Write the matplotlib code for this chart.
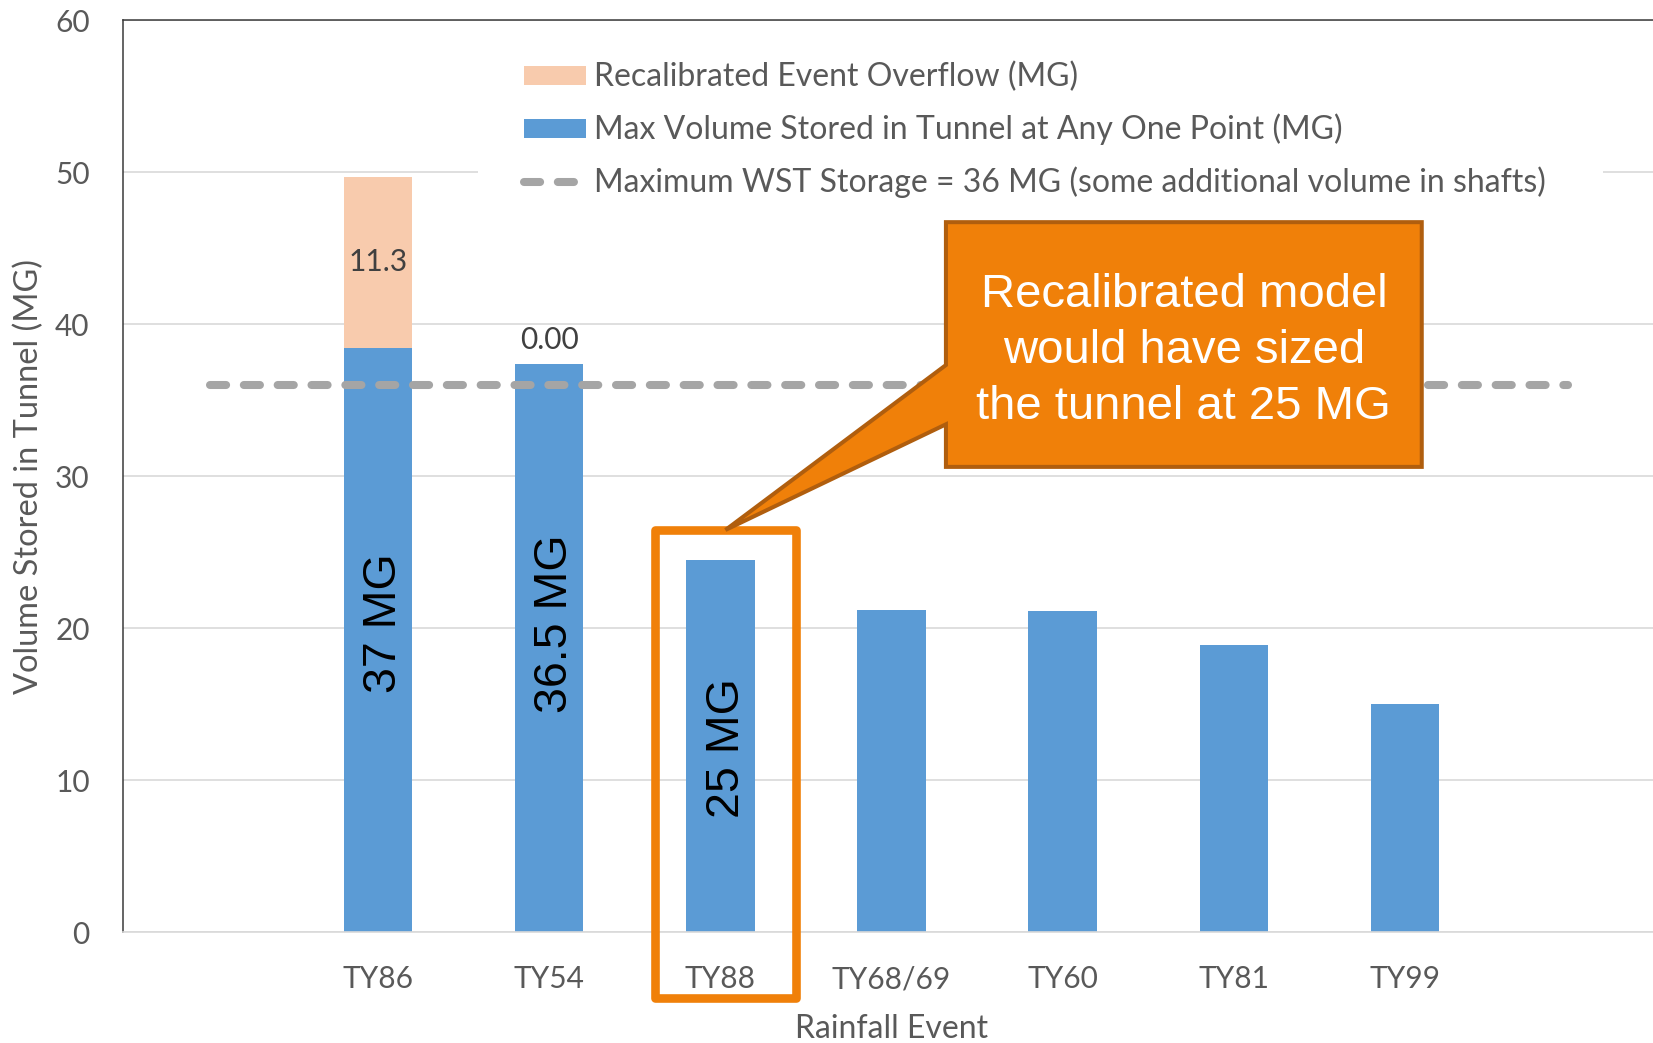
import numpy as np
import matplotlib.pyplot as plt
from matplotlib.patches import Patch, Rectangle, Polygon
from matplotlib.lines import Line2D

# ---- data -------------------------------------------------------------
events = ["TY86", "TY54", "TY88", "TY68/69", "TY60", "TY81", "TY99"]
max_stored = [38.4, 37.4, 24.5, 21.2, 21.1, 18.9, 15.0]        # MG
overflow = [11.3, 0.0, np.nan, np.nan, np.nan, np.nan, np.nan]  # MG
wst_capacity = 36                                               # MG
y_ticks = [0, 10, 20, 30, 40, 50, 60]

design_notes = ["37 MG", "36.5 MG", "25 MG"]
design_note_y = [20.3, 20.3, 12.1]
highlight_idx = 2
callout_text = "Recalibrated model\nwould have sized\nthe tunnel at 25 MG"

legend_labels = [
    "Recalibrated Event Overflow (MG)",
    "Max Volume Stored in Tunnel at Any One Point (MG)",
    "Maximum WST Storage = 36 MG (some additional volume in shafts)",
]

# ---- style ------------------------------------------------------------
BLUE = "#5B9BD5"
PEACH = "#F8CBAD"
DASH_GREY = "#A5A5A5"
GRID = "#D9D9D9"
TEXT_GREY = "#595959"
LABEL_DARK = "#404040"
ORANGE = "#F08009"
ORANGE_EDGE = "#B05E0E"
UI_FONT = ["Lato", "DejaVu Sans"]
NOTE_FONT = ["Liberation Sans", "DejaVu Sans"]

W, H = 1653, 1043
fig = plt.figure(figsize=(W / 100, H / 100), dpi=100)
ax = fig.add_axes([123 / W, 1 - 932 / H, (1660 - 123) / W, (932 - 20) / H])

x = np.arange(len(events))
bar_w = 0.4
overflow_arr = np.array(overflow, dtype=float)

ax.bar(x, max_stored, width=bar_w, color=BLUE, zorder=2)
ax.bar(x, np.nan_to_num(overflow_arr), bottom=max_stored, width=bar_w,
       color=PEACH, zorder=2)

dash_lw = 5.8
ax.plot([-0.98, 6.95], [wst_capacity, wst_capacity], color=DASH_GREY,
        lw=dash_lw, dashes=(2, 2.2), dash_capstyle="round", zorder=3)

# overflow data labels
for i, v in enumerate(overflow_arr):
    if np.isnan(v):
        continue
    if v > 0:
        ax.text(x[i], max_stored[i] + v / 2, f"{v:.1f}", ha="center",
                va="center", fontsize=21.5, color=LABEL_DARK, family=UI_FONT,
                zorder=4)
    else:
        ax.annotate(f"{v:.2f}", (x[i], max_stored[i] + v), xytext=(0, 17),
                    textcoords="offset points", ha="center", va="center",
                    fontsize=21.5, color=LABEL_DARK, family=UI_FONT, zorder=4)

# vertical size notes inside the first bars
for i, (txt, yy) in enumerate(zip(design_notes, design_note_y)):
    ax.annotate(txt, (x[i], yy), xytext=(4.5, 0), textcoords="offset points",
                rotation=90, ha="center", va="center", fontsize=33.5,
                color="black", family=NOTE_FONT, zorder=4)

# axes
ax.set_xlim(-1.49, 7.49)
ax.set_ylim(0, 60)
ax.set_yticks(y_ticks)
ax.set_xticks(x)
ax.set_xticklabels(events)
ax.yaxis.grid(True, color=GRID, lw=1.2)
ax.set_axisbelow(True)
ax.tick_params(axis="both", length=0, labelcolor=TEXT_GREY, labelsize=21.5)
ax.tick_params(axis="y", pad=24)
ax.tick_params(axis="x", pad=24)
for lab in ax.get_xticklabels() + ax.get_yticklabels():
    lab.set_family(UI_FONT)

for side in ("top", "left"):
    ax.spines[side].set_color("#3A3A3A")
    ax.spines[side].set_linewidth(1.1)
ax.spines["bottom"].set_color(GRID)
ax.spines["bottom"].set_linewidth(1.2)
ax.spines["right"].set_visible(False)

ax.set_xlabel("Rainfall Event", fontsize=23, color=TEXT_GREY, family=UI_FONT)
ax.xaxis.set_label_coords(0.5, (932 - 1029) / 912)
ax.xaxis.label.set_va("center")
ax.set_ylabel("Volume Stored in Tunnel (MG)", fontsize=23.4, color=TEXT_GREY,
              family=UI_FONT)
ax.yaxis.set_label_coords((29 - 123) / 1537, (932 - 476) / 912)
ax.yaxis.label.set_va("center")

# white panel behind the legend
ax.add_patch(Rectangle((478 / W, 1 - 215 / H), (1603 - 478) / W, 170 / H,
                       transform=fig.transFigure, facecolor="white",
                       edgecolor="none", zorder=1))

handles = [
    Patch(facecolor=PEACH, edgecolor="none"),
    Patch(facecolor=BLUE, edgecolor="none"),
    Line2D([], [], color=DASH_GREY, lw=dash_lw, dashes=(2, 2.2),
           dash_capstyle="round"),
]
leg = ax.legend(handles, legend_labels, loc="upper left",
                bbox_to_anchor=(524 / W, 1 - 62 / H),
                bbox_transform=fig.transFigure, frameon=False, borderpad=0,
                borderaxespad=0, handlelength=1.94, handleheight=0.53,
                handletextpad=0.25, labelspacing=0.67,
                prop={"family": UI_FONT, "size": 23})
for t in leg.get_texts():
    t.set_color(TEXT_GREY)

# highlight frame around TY88
hx = highlight_idx + 0.03
ax.add_patch(Rectangle((hx - 0.412, -4.34), 0.824, 30.79, fill=False,
                       edgecolor=ORANGE, lw=6.2, joinstyle="round",
                       clip_on=False, zorder=4))

# speech callout
bx0, bx1, by0, by1 = 3.318, 6.098, 30.6, 46.7
callout = Polygon([(bx0, by1), (bx1, by1), (bx1, by0), (bx0, by0),
                   (bx0, 33.4), (hx, 26.45), (bx0, 37.3)], closed=True,
                  facecolor=ORANGE, edgecolor=ORANGE_EDGE, lw=2.9,
                  joinstyle="miter", clip_on=False, zorder=5)
ax.add_patch(callout)
ax.text((bx0 + bx1) / 2, 38.25, callout_text, ha="center", va="center",
        fontsize=34, color="white", family=NOTE_FONT, linespacing=1.355,
        zorder=6)

fig.savefig("out.png", dpi=100)
